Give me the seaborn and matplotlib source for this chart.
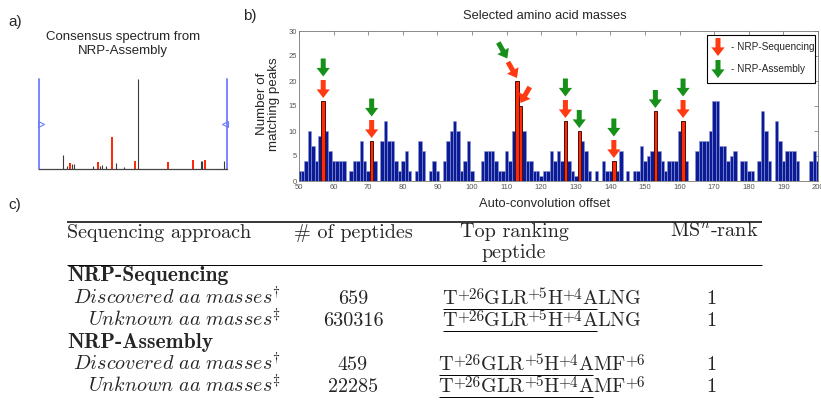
import numpy as np
import pandas as pd
import matplotlib
matplotlib.use("Agg")
import matplotlib.pyplot as plt
import seaborn as sns
from matplotlib.patches import Rectangle

sns.set_theme(style="white")
plt.rcParams["font.family"] = ["Liberation Sans", "DejaVu Sans"]
plt.rcParams["mathtext.fontset"] = "cm"

# ---------------- data ----------------
# b) auto-convolution histogram: number of matching peaks per integer offset 50..200
offsets = list(range(50, 201))
matching_peaks = [
    2, 2, 4, 10, 7, 4, 9, 16, 10, 6,        # 50-59
    4, 4, 4, 4, 0, 2, 4, 4, 8, 4,           # 60-69
    2, 8, 4, 0, 8, 12, 8, 8, 4, 2,          # 70-79
    4, 6, 2, 0, 2, 8, 6, 0, 2, 4,           # 80-89
    2, 0, 4, 8, 10, 12, 10, 2, 4, 8,        # 90-99
    2, 0, 0, 4, 6, 6, 6, 4, 2, 2,           # 100-109
    6, 4, 10, 20, 15, 10, 4, 4, 2, 2,       # 110-119
    1, 2, 2, 6, 4, 6, 4, 12, 4, 2,          # 120-129
    1, 10, 8, 6, 2, 0, 2, 0, 4, 2,          # 130-139
    2, 4, 2, 6, 0, 2, 0, 2, 2, 7,           # 140-149
    4, 5, 6, 14, 6, 4, 2, 4, 4, 4,          # 150-159
    10, 12, 4, 0, 0, 6, 8, 8, 8, 10,        # 160-169
    16, 16, 7, 7, 4, 5, 6, 0, 4, 4,         # 170-179
    2, 2, 0, 4, 14, 10, 4, 0, 12, 8,        # 180-189
    4, 6, 6, 6, 4, 0, 0, 0, 4, 6,           # 190-199
    4,                                      # 200
]
selected_masses = [57, 71, 113, 114, 127, 131, 141, 153, 161]
sequencing_hits = [57, 71, 113, 114, 127, 141, 161]
assembly_hits = [57, 71, 113, 127, 131, 141, 153, 161]
leaning_arrows = {113: -2.6, 114: 2.7}

# a) consensus spectrum (relative position 0-100, relative intensity 0-100)
unmatched_pos = [13.0, 14.7, 17.8, 18.5, 28.6, 32.3, 33.4, 35.5, 40.8, 45.1, 52.7, 86.3, 86.8, 98.2]
unmatched_int = [16, 3, 6, 6, 3, 3, 4, 3, 7, 2, 100, 9, 9, 9]
matched_pos = [16.3, 31.2, 38.7, 50.9, 68.5, 81.8, 88.1]
matched_int = [7, 8, 36, 8.5, 7.5, 9.5, 9.5]

# c) table
approaches = ["NRP-Sequencing", "NRP-Assembly"]
settings = ["Discovered aa masses", "Unknown aa masses"]
footnote_marks = [r"\dagger", r"\ddagger"]
peptide_counts = [[659, 630316], [459, 22285]]
peptide_seq = [["TGLRHALNG", "TGLRHALNG"], ["TGLRHAMF", "TGLRHAMF"]]
peptide_mods = [[{0: "+26", 3: "+5", 4: "+4"}, {0: "+26", 3: "+5", 4: "+4"}],
                [{0: "+26", 3: "+5", 4: "+4", 7: "+6"}, {0: "+26", 3: "+5", 4: "+4", 7: "+6"}]]
underlined_residues = 6
msn_rank = [[1, 1], [1, 1]]

BLUE = "#0b1b95"
RED = "#ff2a0a"
ARROW_RED = "#ff3a12"
GREEN = "#17901a"

W, H = 821, 400
fig = plt.figure(figsize=(W / 100, H / 100), dpi=100)


def px_axes(x0, y0, x1, y1, **kw):
    return fig.add_axes([x0 / W, 1 - y1 / H, (x1 - x0) / W, (y1 - y0) / H], **kw)


# ---------------- a) consensus spectrum ----------------
ax_a = px_axes(39, 79, 227, 169)
ax_a.vlines(unmatched_pos, 0, unmatched_int, color="#3a3a3a", lw=0.8)
ax_a.bar(matched_pos, matched_int, width=1.2, color=RED, linewidth=0)
ax_a.axvline(0, color="#6d7dff", lw=1.3, clip_on=False)
ax_a.axvline(100, color="#6d7dff", lw=1.3, clip_on=False)
ax_a.plot([0.8], [50], marker=">", ms=4, mfc="none", mec="#6d7dff", mew=0.8, clip_on=False)
ax_a.plot([99.2], [50], marker="<", ms=4, mfc="none", mec="#6d7dff", mew=0.8, clip_on=False)
ax_a.set_xlim(0, 100)
ax_a.set_ylim(0, 100)
for s in ["left", "right", "top"]:
    ax_a.spines[s].set_visible(False)
ax_a.spines["bottom"].set_color("#444444")
ax_a.spines["bottom"].set_linewidth(0.9)
ax_a.set_xticks([])
ax_a.set_yticks([])
ax_a.patch.set_alpha(0)

# ---------------- b) auto-convolution histogram ----------------
ax = px_axes(299, 31, 818, 181)
df = pd.DataFrame({"offset": offsets, "peaks": matching_peaks})
df["selected"] = df["offset"].isin(selected_masses)
background = df[(~df["selected"]) & (df["peaks"] > 0)]
chosen = df[df["selected"]]
sns.barplot(data=background, x="offset", y="peaks", native_scale=True, width=1.0,
            color=BLUE, saturation=1, edgecolor="#8e98d8", linewidth=0.4,
            errorbar=None, ax=ax)
sns.barplot(data=chosen, x="offset", y="peaks", native_scale=True, width=1.0,
            color=RED, saturation=1, edgecolor="#4a1000", linewidth=0.7,
            errorbar=None, ax=ax)
ax.set_xlim(50, 200)
ax.set_ylim(0, 30)
ax.set_xticks(range(50, 201, 10))
ax.set_xticklabels([str(v) for v in range(50, 201, 10)])
ax.set_yticks(range(0, 31, 5))
ax.set_xlabel("")
ax.set_ylabel("")
ax.tick_params(direction="in", length=3, width=0.5, top=True, right=True,
               labelsize=5.5, labelcolor="#555555", color="#666666")
ax.tick_params(axis="x", pad=2.5)
ax.tick_params(axis="y", pad=1.5)
for s in ax.spines.values():
    s.set_color("#777777")
    s.set_linewidth(0.6)

ARROW = "simple,head_length=0.62,head_width=0.95,tail_width=0.36"


def arrow(x_tip, y_tip, dx, dy, color):
    ax.annotate("", xy=(x_tip, y_tip), xytext=(x_tip + dx, y_tip + dy),
                arrowprops=dict(arrowstyle=ARROW, mutation_scale=10, color=color,
                                lw=0, shrinkA=0, shrinkB=0))


peak_of = dict(zip(offsets, matching_peaks))
for m in sorted(set(sequencing_hits) | set(assembly_hits)):
    lean = leaning_arrows.get(m, 0.0)
    dy = 3.2 if lean else 3.6
    x_tip, y_tip = m, peak_of[m] + 0.6
    if m in sequencing_hits:
        arrow(x_tip, y_tip, lean, dy, ARROW_RED)
        x_tip, y_tip = x_tip + lean + 0.2 * np.sign(lean), y_tip + dy + 0.7
    if m in assembly_hits:
        arrow(x_tip, y_tip, lean, dy, GREEN)

# ---------------- overlay: labels, legend and table ----------------
ov = fig.add_axes([0, 0, 1, 1], zorder=5)
ov.set_xlim(0, W)
ov.set_ylim(H, 0)
ov.axis("off")

ov.text(8, 22, "a)", fontsize=11, va="center")
ov.text(243, 16, "b)", fontsize=11, va="center")
ov.text(8, 205, "c)", fontsize=11, va="center")

ov.text(123, 44, "Consensus spectrum from\nNRP-Assembly", fontsize=9.5,
        ha="center", va="center", linespacing=1.2)
ov.text(545, 16, "Selected amino acid masses", fontsize=9.3, ha="center", va="center")
ov.text(545, 204, "Auto-convolution offset", fontsize=9.3, ha="center", va="center")
ov.text(268, 104, "Number of\nmatching peaks", fontsize=9.6, rotation=90,
        ha="center", va="center", linespacing=1.0)

# legend box
ov.add_patch(Rectangle((707, 35), 108, 48, facecolor="white", edgecolor="black", lw=0.8))
for yc, col, lab in [(47, ARROW_RED, "- NRP-Sequencing"), (69, GREEN, "- NRP-Assembly")]:
    ov.annotate("", xy=(718, yc + 9), xytext=(718, yc - 9),
                arrowprops=dict(arrowstyle=ARROW, mutation_scale=10, color=col,
                                lw=0, shrinkA=0, shrinkB=0))
    ov.text(731, yc, lab, fontsize=7.2, va="center")

# table
FS = 14.5
SUP_FS = 11.0
SUP_RAISE = 6.0
CM = dict(family="cmr10", fontsize=FS, va="baseline")
ov.plot([67, 762], [222, 222], color="black", lw=1.1, solid_capstyle="butt")
ov.plot([67, 762], [265, 265], color="black", lw=0.7, solid_capstyle="butt")
ov.text(67, 238, "Sequencing approach", **CM)
ov.text(353, 238, "# of peptides", ha="center", **CM)
ov.text(514, 237, "Top ranking", ha="center", **CM)
ov.text(514, 258, "peptide", ha="center", **CM)
ov.text(714, 237, r"MS$^{n}$-rank", ha="center", **CM)

group_base = [281, 348]
row_base = [[304, 326], [370, 392]]
peptide_rows = []
for g, name in enumerate(approaches):
    ov.text(67, group_base[g], name, va="baseline", family="cmb10", fontsize=15.5)
    for r, setting in enumerate(settings):
        yb = row_base[g][r]
        label = r"$\mathit{" + setting.replace(" ", r"\ ") + r"}^{" + footnote_marks[r] + r"}$"
        ov.text(281, yb, label, ha="right", va="baseline", fontsize=FS)
        ov.text(353, yb, str(peptide_counts[g][r]), ha="center", **CM)
        ov.text(711, yb, str(msn_rank[g][r]), ha="center", **CM)
        pieces = []
        mods = peptide_mods[g][r]
        for i, aa in enumerate(peptide_seq[g][r]):
            pieces.append((i, ov.text(0, yb, aa, **CM)))
            if i in mods:
                pieces.append((i, ov.text(0, yb - SUP_RAISE, mods[i], family="cmr10",
                                          fontsize=SUP_FS, va="baseline")))
        peptide_rows.append((yb, pieces))

fig.canvas.draw()
for yb, pieces in peptide_rows:
    widths = [t.get_window_extent().width for _, t in pieces]
    x = 541.5 - sum(widths) / 2
    x_start, x_under = x, x
    for (i, t), w in zip(pieces, widths):
        t.set_x(x)
        x += w
        if i < underlined_residues:
            x_under = x
    ov.plot([x_start, x_under], [yb + 5, yb + 5], color="black", lw=0.7,
            solid_capstyle="butt")

fig.savefig("out.png", dpi=100, facecolor="white")
